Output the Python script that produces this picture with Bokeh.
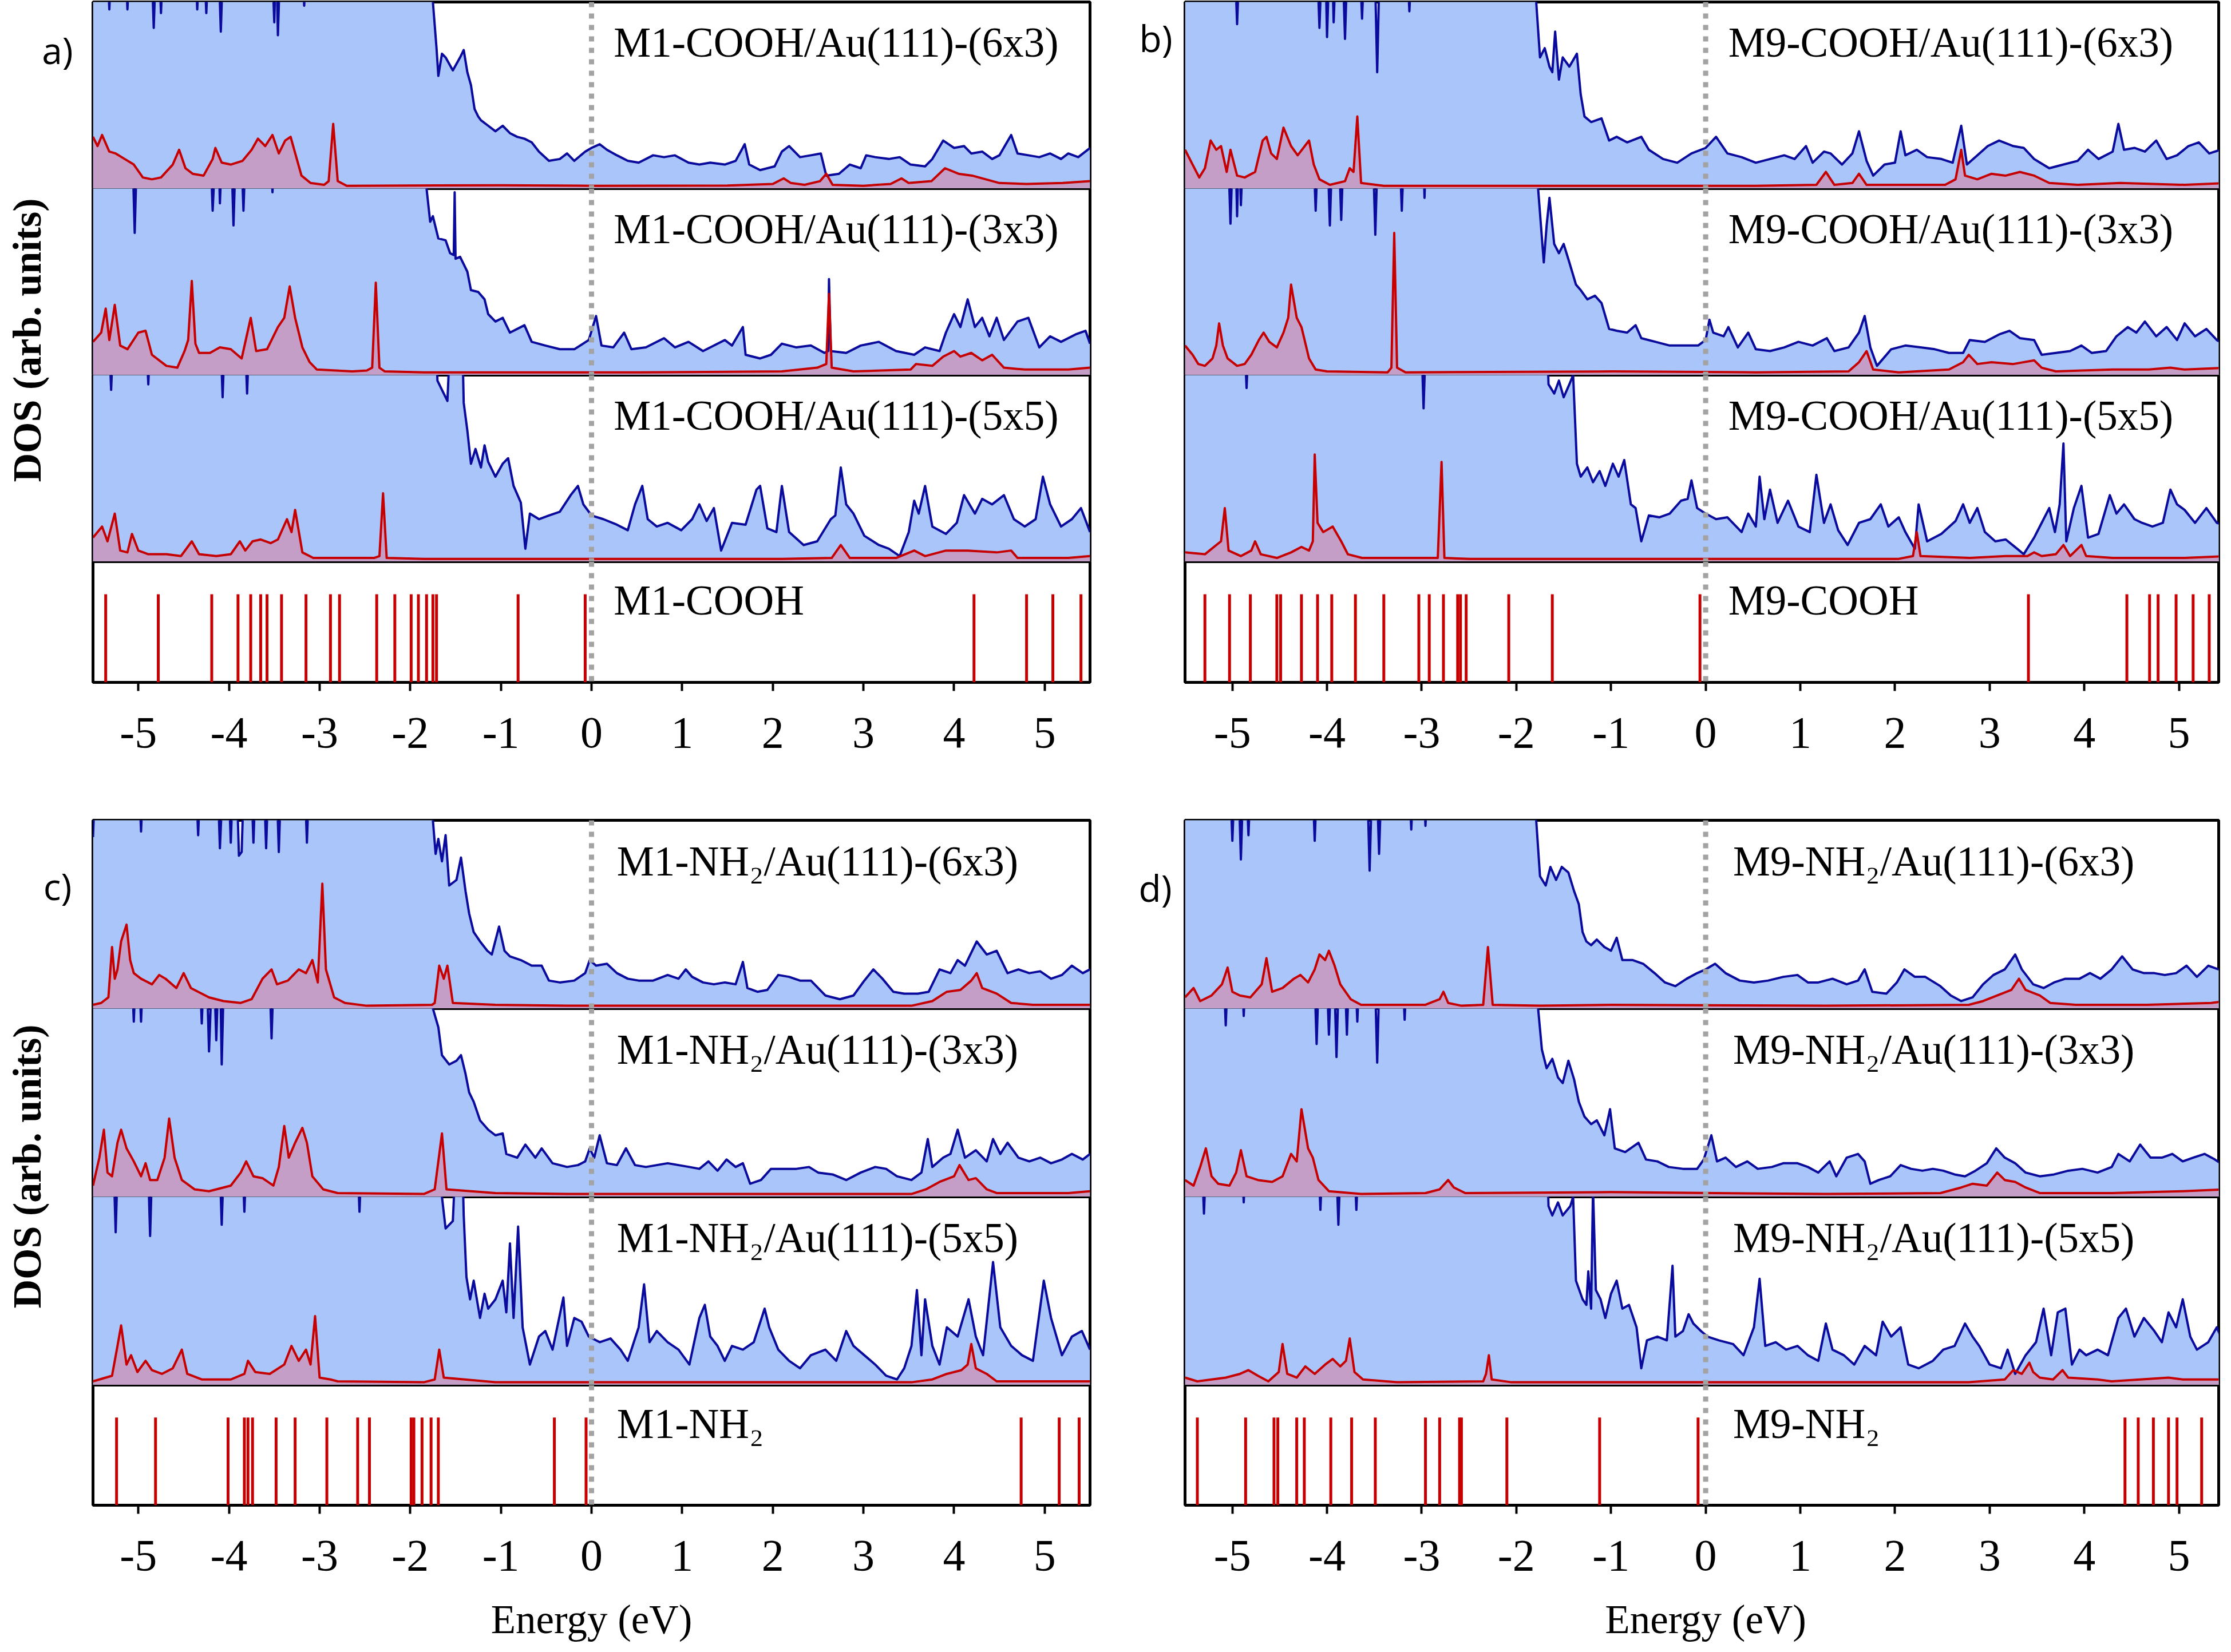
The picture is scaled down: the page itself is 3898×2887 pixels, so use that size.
import math
from bokeh.plotting import figure
from bokeh.layouts import row, column
from bokeh.models import Span, Label, Range1d, FixedTicker
from bokeh.embed import file_html
from bokeh.resources import INLINE

# ---------------- data ----------------
XTICKS = [-5, -4, -3, -2, -1, 0, 1, 2, 3, 4, 5]
XTICK_LABELS = ["-5", "-4", "-3", "-2", "-1", "0", "1", "2", "3", "4", "5"]

TITLES_A = ["M1-COOH/Au(111)-(6x3)", "M1-COOH/Au(111)-(3x3)", "M1-COOH/Au(111)-(5x5)"]
TITLES_B = ["M9-COOH/Au(111)-(6x3)", "M9-COOH/Au(111)-(3x3)", "M9-COOH/Au(111)-(5x5)"]
TITLES_C = ["M1-NH\u2082/Au(111)-(6x3)", "M1-NH\u2082/Au(111)-(3x3)", "M1-NH\u2082/Au(111)-(5x5)"]
TITLES_D = ["M9-NH\u2082/Au(111)-(6x3)", "M9-NH\u2082/Au(111)-(3x3)", "M9-NH\u2082/Au(111)-(5x5)"]
MOLECULES = ["M1-COOH", "M9-COOH", "M1-NH\u2082", "M9-NH\u2082"]
PANEL_LETTERS = ["a)", "b)", "c)", "d)"]
X_TITLE = "Energy (eV)"
Y_TITLE = "DOS (arb. units)"

# molecular levels (eV)
LEVELS_A = [-5.36, -4.78, -4.19, -3.90, -3.76, -3.65, -3.58, -3.42, -3.15, -2.88, -2.78, -2.37,
            -2.17, -1.99, -1.91, -1.82, -1.75, -1.71, -0.81, -0.07, 4.22, 4.80, 5.09, 5.40]
LEVELS_B = [-5.29, -5.03, -4.81, -4.53, -4.49, -4.27, -4.10, -3.95, -3.70, -3.40, -3.03, -2.92,
            -2.77, -2.62, -2.59, -2.53, -2.08, -1.62, -0.06, 3.41, 4.45, 4.69, 4.78, 4.97, 5.15, 5.32]
LEVELS_C = [-5.24, -4.81, -4.01, -3.83, -3.79, -3.74, -3.48, -3.27, -2.92, -2.58, -2.45, -1.99,
            -1.96, -1.87, -1.77, -1.69, -0.41, -0.06, 4.74, 5.16, 5.38]
LEVELS_D = [-5.37, -4.86, -4.56, -4.52, -4.32, -4.24, -3.96, -3.74, -3.49, -2.96, -2.81, -2.60,
            -2.58, -2.10, -1.12, -0.08, 4.43, 4.57, 4.73, 4.89, 4.98, 5.24]

# total DOS (blue) and molecule-projected DOS (red), arbitrary units (100 = top of sub-panel)
A1_BLUE = [(-5.50,130),(-5.35,130),(-5.32,96),(-5.29,130),(-5.15,130),(-5.12,96),(-5.09,130),(-4.86,130),(-4.83,86),(-4.80,130),(-4.78,130),(-4.75,94),(-4.72,130),(-4.38,130),(-4.35,96),(-4.32,130),(-4.28,130),(-4.25,94),(-4.22,130),(-4.12,130),(-4.09,84),(-4.06,130),(-3.53,130),(-3.50,89),(-3.48,130),(-3.46,82),(-3.43,130),(-3.20,130),(-3.17,98),(-3.14,130),(-1.78,130),
           (-1.75,100),(-1.71,75),(-1.69,60),(-1.65,72),(-1.61,70),(-1.53,63),(-1.45,70),(-1.41,74),(-1.37,62),(-1.33,55),(-1.29,42),(-1.25,38),(-1.22,36),(-1.14,33),(-1.06,30),(-0.98,33),(-0.90,29),(-0.82,27),(-0.74,26),(-0.66,24),(-0.58,19),(-0.47,14),(-0.35,15),(-0.27,18),(-0.19,14),(-0.07,19),(0.00,21),(0.09,23),(0.17,20),(0.28,17),(0.40,14),(0.52,13),(0.68,17),(0.80,16),(0.92,17),(1.07,13),(1.19,12),(1.31,13),(1.47,12),(1.59,14),(1.69,23),(1.74,12),(1.86,9),(2.02,11),(2.10,19),(2.18,22),(2.30,16),(2.42,17),(2.53,18),(2.59,6),(2.73,7),(2.85,12),(2.97,10),(3.03,17),(3.13,16),(3.28,15),(3.40,16),(3.52,12),(3.68,11),(3.76,15),(3.88,25),(4.00,21),(4.11,22),(4.19,18),(4.31,19),(4.42,15),(4.50,17),(4.63,28),(4.70,18),(4.82,17),(4.94,16),(5.06,18),(5.18,15),(5.26,18),(5.37,16),(5.50,21)]
A1_RED = [(-5.50,27),(-5.45,22),(-5.40,28),(-5.32,19),(-5.25,18),(-5.15,15),(-5.05,12),(-4.95,5),(-4.85,4),(-4.75,5),(-4.62,12),(-4.55,20),(-4.48,10),(-4.40,7),(-4.28,6),(-4.18,15),(-4.15,21),(-4.08,13),(-3.98,12),(-3.85,14),(-3.75,20),(-3.68,26),(-3.60,22),(-3.52,28),(-3.45,18),(-3.38,25),(-3.32,27),(-3.28,20),(-3.20,6),(-3.10,2),(-2.95,1),(-2.90,3),(-2.85,34),(-2.80,3),(-2.70,0.5),(-1.00,0.8),(0.00,0.5),(1.50,0.6),(2.00,1.5),(2.12,4.5),(2.20,2),(2.35,1),(2.52,3),(2.59,7),(2.66,1),(3.00,0.5),(3.30,1.5),(3.42,4.5),(3.50,2),(3.75,3),(3.90,10),(4.05,7),(4.20,6),(4.35,4),(4.50,2),(4.80,1.5),(5.20,2),(5.50,3)]

A2_BLUE = [(-5.50,130),(-5.07,130),(-5.04,76),(-5.01,130),(-4.21,130),(-4.18,88),(-4.14,130),(-4.12,130),(-4.10,92),(-4.07,130),(-3.98,130),(-3.95,80),(-3.92,130),(-3.87,130),(-3.84,88),(-3.81,130),(-3.55,130),(-3.52,98),(-3.49,130),(-1.84,130),
           (-1.82,100),(-1.78,82),(-1.75,85),(-1.69,73),(-1.61,72),(-1.56,65),(-1.52,64),(-1.51,98),(-1.50,62),(-1.45,63),(-1.37,55),(-1.33,45),(-1.25,44),(-1.18,40),(-1.14,32),(-1.06,28),(-0.98,30),(-0.90,22),(-0.74,26),(-0.66,17),(-0.51,15),(-0.35,13),(-0.19,13),(-0.03,18),(0.05,31),(0.11,15),(0.24,14),(0.36,22),(0.44,13),(0.60,14),(0.80,19),(0.92,14),(1.07,17),(1.23,12),(1.47,18),(1.55,15),(1.67,25),(1.70,10),(1.86,8),(1.98,10),(2.10,16),(2.26,14),(2.42,15),(2.57,11),(2.61,12),(2.62,51),(2.64,12),(2.81,11),(2.97,15),(3.17,17),(3.36,12),(3.56,10),(3.68,14),(3.84,12),(3.91,22),(4.00,32),(4.07,25),(4.15,40),(4.23,25),(4.31,30),(4.39,20),(4.47,30),(4.55,18),(4.70,28),(4.82,30),(4.94,14),(5.06,20),(5.18,17),(5.34,21),(5.45,23),(5.50,16)]
A2_RED = [(-5.50,17),(-5.41,22),(-5.36,35),(-5.32,18),(-5.26,37),(-5.20,15),(-5.12,13),(-5.00,22),(-4.92,23),(-4.85,10),(-4.69,4),(-4.57,3),(-4.49,12),(-4.45,18),(-4.41,50),(-4.37,16),(-4.33,11),(-4.21,11),(-4.10,14),(-3.98,13),(-3.86,8),(-3.76,30),(-3.70,12),(-3.58,13),(-3.46,25),(-3.39,30),(-3.33,47),(-3.27,30),(-3.19,14),(-3.11,6),(-3.03,2),(-2.64,1),(-2.48,1.5),(-2.42,3),(-2.38,49),(-2.34,3),(-2.28,1),(-1.85,0.5),(0.52,0.5),(2.10,1),(2.49,3),(2.59,5),(2.62,43),(2.65,3),(2.89,1),(3.52,2),(3.58,5),(3.76,4),(3.88,9),(4.00,12),(4.07,9),(4.19,11),(4.31,7),(4.42,10),(4.55,3),(4.78,2),(5.26,2),(5.50,3)]

A3_BLUE = [(-5.50,130),(-5.33,130),(-5.30,92),(-5.27,130),(-4.92,130),(-4.89,95),(-4.86,130),(-4.10,130),(-4.07,88),(-4.04,130),(-3.83,130),(-3.80,90),(-3.77,130),(-1.72,130),
           (-1.70,97),(-1.65,92),(-1.59,86),(-1.55,130),(-1.43,130),(-1.41,85),(-1.37,70),(-1.33,52),(-1.28,60),(-1.22,50),(-1.18,62),(-1.14,53),(-1.06,45),(-0.98,52),(-0.92,55),(-0.86,40),(-0.78,31),(-0.73,6),(-0.68,25),(-0.58,22),(-0.47,24),(-0.35,26),(-0.23,35),(-0.15,40),(-0.09,30),(0.00,24),(0.13,22),(0.28,19),(0.40,16),(0.48,30),(0.56,40),(0.62,22),(0.72,18),(0.84,20),(0.99,16),(1.11,22),(1.19,30),(1.27,21),(1.35,28),(1.43,5),(1.55,20),(1.70,19),(1.82,38),(1.86,40),(1.94,17),(2.04,15),(2.10,40),(2.18,15),(2.34,8),(2.49,10),(2.64,22),(2.69,24),(2.75,50),(2.81,30),(2.89,25),(3.01,13),(3.17,8),(3.28,6),(3.40,2),(3.50,15),(3.56,32),(3.61,25),(3.68,40),(3.76,18),(3.91,14),(4.03,20),(4.11,35),(4.23,25),(4.31,33),(4.42,30),(4.55,35),(4.66,22),(4.78,18),(4.90,22),(4.98,45),(5.06,30),(5.18,18),(5.30,22),(5.40,28),(5.50,15)]
A3_RED = [(-5.50,12),(-5.40,18),(-5.34,10),(-5.26,25),(-5.20,5),(-5.12,4),(-5.07,14),(-5.00,5),(-4.89,3),(-4.69,3),(-4.53,2),(-4.41,10),(-4.33,3),(-4.14,2),(-3.98,3),(-3.88,10),(-3.82,5),(-3.74,10),(-3.65,11),(-3.54,9),(-3.46,11),(-3.36,22),(-3.31,15),(-3.27,27),(-3.19,4),(-3.07,1),(-2.40,1),(-2.34,2),(-2.30,36),(-2.26,1),(-1.85,0.5),(2.10,0.5),(2.65,1),(2.75,8),(2.85,1),(3.36,1),(3.56,5),(3.68,2),(3.91,5),(4.15,5),(4.47,4),(4.63,5),(4.70,1),(5.26,1),(5.50,2)]

B1_BLUE = [(-5.50,130),(-4.98,130),(-4.95,88),(-4.92,130),(-4.11,130),(-4.08,86),(-4.05,130),(-4.02,130),(-4.00,81),(-3.97,130),(-3.95,130),(-3.93,89),(-3.90,130),(-3.84,130),(-3.81,80),(-3.78,130),(-3.66,130),(-3.63,91),(-3.60,130),(-3.50,130),(-3.47,62),(-3.44,130),(-3.16,130),(-3.13,95),(-3.10,130),(-1.81,130),
           (-1.79,100),(-1.75,70),(-1.70,75),(-1.65,65),(-1.62,62),(-1.59,84),(-1.55,58),(-1.51,70),(-1.44,65),(-1.36,72),(-1.32,50),(-1.28,38),(-1.21,35),(-1.10,37),(-1.02,25),(-0.94,27),(-0.83,24),(-0.68,27),(-0.60,20),(-0.45,15),(-0.30,13),(-0.15,18),(0.00,21),(0.11,27),(0.23,18),(0.38,16),(0.53,13),(0.68,15),(0.83,17),(0.94,15),(1.06,22),(1.13,13),(1.25,19),(1.32,18),(1.44,12),(1.55,18),(1.62,30),(1.70,14),(1.77,6),(1.89,12),(2.00,13),(2.06,30),(2.11,17),(2.23,20),(2.34,16),(2.49,15),(2.61,13),(2.70,33),(2.76,12),(2.87,17),(2.98,22),(3.10,25),(3.25,22),(3.36,21),(3.47,15),(3.63,10),(3.78,12),(3.93,14),(4.04,20),(4.15,15),(4.30,19),(4.36,34),(4.42,20),(4.53,21),(4.64,19),(4.76,25),(4.87,15),(4.98,17),(5.10,22),(5.21,24),(5.32,18),(5.44,20),(5.50,18)]
B1_RED = [(-5.50,20),(-5.42,12),(-5.35,5),(-5.29,10),(-5.23,25),(-5.17,20),(-5.12,22),(-5.06,8),(-5.02,20),(-4.95,6),(-4.87,5),(-4.76,8),(-4.68,25),(-4.64,27),(-4.59,18),(-4.53,15),(-4.46,32),(-4.38,22),(-4.31,17),(-4.19,25),(-4.14,12),(-4.08,4),(-3.97,1),(-3.81,3),(-3.76,10),(-3.72,8),(-3.68,38),(-3.64,2),(-3.40,0.5),(0.53,0.5),(1.17,1),(1.27,8),(1.36,1),(1.55,2),(1.62,7),(1.70,1),(2.53,1),(2.64,4),(2.70,20),(2.74,6),(2.87,4),(3.02,7),(3.17,6),(3.32,8),(3.47,6),(3.63,2),(3.93,1),(4.38,2),(5.06,1),(5.50,2)]

B2_BLUE = [(-5.50,130),(-5.05,130),(-5.02,81),(-4.99,130),(-4.97,130),(-4.95,85),(-4.93,130),(-4.91,91),(-4.88,130),(-4.15,130),(-4.12,88),(-4.09,130),(-4.00,130),(-3.97,80),(-3.94,130),(-3.88,130),(-3.85,83),(-3.82,130),(-3.52,130),(-3.49,75),(-3.46,130),(-3.24,130),(-3.21,88),(-3.18,130),(-2.99,130),(-2.97,95),(-2.95,130),(-1.79,130),
           (-1.77,100),(-1.71,60),(-1.68,80),(-1.65,95),(-1.60,70),(-1.55,65),(-1.50,70),(-1.44,60),(-1.37,48),(-1.32,45),(-1.25,40),(-1.17,42),(-1.10,38),(-1.02,24),(-0.94,23),(-0.83,22),(-0.74,26),(-0.68,19),(-0.53,17),(-0.38,15),(-0.23,15),(-0.08,15),(0.00,18),(0.04,29),(0.08,22),(0.19,20),(0.24,25),(0.34,14),(0.45,22),(0.53,13),(0.68,12),(0.83,14),(0.98,17),(1.13,15),(1.28,19),(1.36,12),(1.51,14),(1.62,22),(1.68,31),(1.74,14),(1.81,4),(1.96,13),(2.11,15),(2.27,14),(2.42,13),(2.57,11),(2.72,11),(2.79,18),(2.95,17),(3.10,21),(3.21,23),(3.32,19),(3.47,18),(3.55,10),(3.70,11),(3.85,12),(3.97,15),(4.08,11),(4.23,12),(4.34,20),(4.46,25),(4.55,22),(4.64,28),(4.76,20),(4.87,25),(4.98,18),(5.06,27),(5.17,20),(5.29,24),(5.40,18),(5.50,15)]
B2_RED = [(-5.50,15),(-5.42,10),(-5.36,5),(-5.29,4),(-5.21,8),(-5.17,15),(-5.14,27),(-5.10,15),(-5.05,8),(-4.95,4),(-4.87,5),(-4.80,10),(-4.72,18),(-4.67,22),(-4.61,17),(-4.53,14),(-4.46,22),(-4.41,30),(-4.38,48),(-4.32,30),(-4.27,25),(-4.19,8),(-4.12,2),(-4.00,1),(-3.36,0.5),(-3.32,3),(-3.29,76),(-3.26,3),(-3.17,0.5),(-0.98,1),(0.53,0.5),(1.51,1),(1.62,6),(1.70,12),(1.77,2),(2.04,0.5),(2.57,2),(2.72,6),(2.78,10),(2.87,5),(3.02,6),(3.25,5),(3.47,7),(3.55,3),(3.70,1),(4.30,2),(4.68,2),(4.91,3),(5.06,2),(5.50,3)]

B3_BLUE = [(-5.50,130),(-4.88,130),(-4.85,93),(-4.82,130),(-3.01,130),(-2.98,82),(-2.95,130),(-1.68,130),
           (-1.66,95),(-1.60,90),(-1.55,97),(-1.50,88),(-1.44,95),(-1.40,100),(-1.36,52),(-1.32,45),(-1.25,50),(-1.19,42),(-1.12,48),(-1.06,40),(-0.98,52),(-0.92,45),(-0.86,54),(-0.79,30),(-0.74,28),(-0.68,10),(-0.60,24),(-0.49,23),(-0.38,25),(-0.26,32),(-0.19,33),(-0.15,43),(-0.09,28),(0.00,25),(0.11,22),(0.23,23),(0.38,15),(0.45,25),(0.53,18),(0.57,45),(0.62,22),(0.68,38),(0.76,20),(0.87,32),(0.98,18),(1.10,15),(1.17,46),(1.25,20),(1.32,30),(1.40,16),(1.50,8),(1.62,20),(1.74,22),(1.85,30),(1.93,18),(2.04,23),(2.11,15),(2.21,6),(2.25,30),(2.34,10),(2.49,14),(2.64,21),(2.72,30),(2.79,20),(2.87,28),(2.95,15),(3.06,10),(3.17,11),(3.29,6),(3.36,3),(3.47,12),(3.55,20),(3.63,28),(3.69,15),(3.74,30),(3.78,63),(3.81,10),(3.89,28),(3.97,40),(4.04,12),(4.15,14),(4.27,35),(4.34,25),(4.42,30),(4.53,22),(4.61,20),(4.72,18),(4.83,20),(4.91,38),(4.98,30),(5.06,27),(5.17,20),(5.29,28),(5.40,20),(5.50,18)]
B3_RED = [(-5.50,4),(-5.29,3),(-5.17,8),(-5.12,10),(-5.08,28),(-5.04,5),(-4.91,2),(-4.80,5),(-4.76,10),(-4.70,3),(-4.53,1),(-4.38,4),(-4.27,7),(-4.19,5),(-4.15,10),(-4.13,57),(-4.10,20),(-4.04,15),(-3.94,18),(-3.85,10),(-3.78,3),(-3.63,1),(-2.83,1),(-2.79,53),(-2.76,1),(-2.49,0.5),(2.04,0.5),(2.19,2),(2.23,15),(2.27,2),(2.79,1),(3.17,2),(3.40,2),(3.47,4),(3.55,2),(3.70,3),(3.78,8),(3.85,2),(3.97,8),(4.02,2),(4.30,1),(5.06,1),(5.50,2)]

C1_BLUE = [(-5.50,91),(-5.47,130),(-5.00,130),(-4.97,94),(-4.94,130),(-4.37,130),(-4.34,92),(-4.31,130),(-4.13,130),(-4.10,85),(-4.06,130),(-4.01,130),(-3.98,88),(-3.95,130),(-3.92,130),(-3.89,81),(-3.86,83),(-3.83,130),(-3.76,130),(-3.73,88),(-3.70,130),(-3.62,130),(-3.59,85),(-3.56,130),(-3.48,130),(-3.45,83),(-3.42,130),(-3.17,130),(-3.14,88),(-3.11,130),(-1.77,130),
           (-1.75,100),(-1.72,82),(-1.69,90),(-1.65,78),(-1.61,92),(-1.57,65),(-1.49,68),(-1.44,80),(-1.39,62),(-1.35,50),(-1.30,40),(-1.23,35),(-1.15,30),(-1.10,28),(-1.02,43),(-0.96,30),(-0.90,27),(-0.78,25),(-0.66,22),(-0.55,22),(-0.47,14),(-0.35,13),(-0.19,14),(-0.07,18),(-0.02,25),(0.05,22),(0.17,23),(0.28,18),(0.40,15),(0.52,14),(0.68,14),(0.84,17),(0.96,15),(1.04,20),(1.11,16),(1.23,13),(1.35,12),(1.47,13),(1.59,12),(1.67,24),(1.72,10),(1.83,8),(1.94,9),(2.06,17),(2.18,16),(2.30,14),(2.42,14),(2.58,6),(2.74,4),(2.89,6),(3.01,14),(3.11,20),(3.21,15),(3.33,8),(3.45,7),(3.60,7),(3.72,8),(3.84,20),(3.96,18),(4.04,25),(4.12,22),(4.25,35),(4.36,28),(4.47,30),(4.59,18),(4.71,20),(4.83,18),(4.95,19),(5.07,15),(5.19,17),(5.30,22),(5.42,18),(5.50,20)]
C1_RED = [(-5.50,1),(-5.41,2),(-5.33,5),(-5.29,32),(-5.26,15),(-5.23,20),(-5.19,35),(-5.13,44),(-5.09,25),(-5.05,18),(-4.97,15),(-4.85,12),(-4.77,17),(-4.70,15),(-4.58,10),(-4.50,18),(-4.42,10),(-4.34,8),(-4.22,5),(-4.06,3),(-3.87,2),(-3.75,4),(-3.63,15),(-3.53,20),(-3.47,12),(-3.35,14),(-3.23,20),(-3.15,18),(-3.08,25),(-3.02,13),(-2.97,66),(-2.93,20),(-2.84,5),(-2.72,2),(-2.48,0.5),(-1.76,1),(-1.73,2),(-1.68,22),(-1.63,15),(-1.59,22),(-1.53,2),(-1.06,1),(-0.27,0.5),(3.53,0.5),(3.76,3),(3.92,8),(4.07,9),(4.19,14),(4.25,18),(4.31,10),(4.47,7),(4.63,2),(4.87,1),(5.50,1)]

C2_BLUE = [(-5.50,130),(-5.08,130),(-5.05,93),(-5.02,130),(-5.00,130),(-4.97,93),(-4.94,130),(-4.33,130),(-4.30,92),(-4.27,130),(-4.25,130),(-4.22,77),(-4.18,130),(-4.17,130),(-4.14,83),(-4.11,130),(-4.10,130),(-4.08,70),(-4.05,130),(-3.56,130),(-3.53,84),(-3.50,130),(-1.77,130),
           (-1.75,100),(-1.69,90),(-1.65,75),(-1.57,70),(-1.49,72),(-1.44,75),(-1.39,65),(-1.35,55),(-1.30,50),(-1.23,40),(-1.14,35),(-1.06,32),(-0.98,33),(-0.94,22),(-0.82,20),(-0.73,27),(-0.62,20),(-0.55,25),(-0.43,17),(-0.27,15),(-0.15,16),(-0.07,18),(-0.02,25),(0.03,20),(0.09,32),(0.17,17),(0.28,16),(0.38,25),(0.48,16),(0.60,15),(0.72,16),(0.84,17),(0.96,16),(1.08,15),(1.19,14),(1.29,18),(1.39,13),(1.49,19),(1.59,15),(1.67,17),(1.75,6),(1.87,8),(1.98,14),(2.10,14),(2.26,14),(2.40,15),(2.50,12),(2.66,11),(2.81,8),(2.97,12),(3.13,15),(3.25,14),(3.37,10),(3.53,8),(3.64,12),(3.71,30),(3.76,15),(3.88,20),(3.96,22),(4.04,35),(4.12,20),(4.24,24),(4.36,18),(4.43,30),(4.51,22),(4.59,28),(4.71,20),(4.83,18),(4.95,20),(5.07,17),(5.19,19),(5.30,22),(5.42,19),(5.50,22)]
C2_RED = [(-5.50,5),(-5.43,20),(-5.38,35),(-5.34,12),(-5.29,10),(-5.23,28),(-5.19,35),(-5.13,25),(-5.05,18),(-4.97,10),(-4.92,17),(-4.87,8),(-4.79,8),(-4.71,20),(-4.66,41),(-4.60,20),(-4.52,8),(-4.38,3),(-4.22,2),(-3.98,5),(-3.87,12),(-3.81,18),(-3.73,10),(-3.63,9),(-3.51,5),(-3.45,15),(-3.39,37),(-3.34,20),(-3.27,28),(-3.19,36),(-3.14,28),(-3.08,10),(-2.96,3),(-2.80,1),(-1.85,0.5),(-1.73,3),(-1.65,33),(-1.60,3),(-1.06,1),(-0.27,0.5),(3.53,0.5),(3.69,3),(3.84,7),(4.00,10),(4.06,16),(4.16,8),(4.24,9),(4.36,3),(4.47,1),(5.26,1),(5.50,2)]

C3_BLUE = [(-5.50,130),(-5.28,130),(-5.25,81),(-5.22,130),(-4.90,130),(-4.87,79),(-4.84,130),(-4.11,130),(-4.08,85),(-4.05,130),(-3.86,130),(-3.83,92),(-3.80,130),(-2.59,130),(-2.56,92),(-2.53,130),(-1.67,130),
           (-1.65,100),(-1.61,83),(-1.53,87),(-1.49,130),(-1.43,130),(-1.41,90),(-1.38,57),(-1.34,45),(-1.30,55),(-1.23,35),(-1.18,48),(-1.14,40),(-1.06,45),(-0.98,55),(-0.94,38),(-0.90,75),(-0.86,35),(-0.81,84),(-0.76,30),(-0.68,10),(-0.58,25),(-0.51,28),(-0.43,18),(-0.31,46),(-0.27,20),(-0.19,35),(-0.11,33),(-0.03,25),(0.09,22),(0.21,24),(0.32,18),(0.40,12),(0.52,30),(0.58,53),(0.64,22),(0.72,28),(0.84,22),(0.96,18),(1.08,10),(1.19,35),(1.25,42),(1.31,25),(1.39,20),(1.47,12),(1.55,20),(1.67,18),(1.79,22),(1.91,40),(1.96,30),(2.06,18),(2.18,12),(2.30,8),(2.42,15),(2.58,18),(2.70,12),(2.81,28),(2.89,20),(3.01,15),(3.13,10),(3.25,4),(3.37,2),(3.45,8),(3.53,20),(3.59,50),(3.64,15),(3.68,45),(3.76,20),(3.84,10),(3.92,30),(4.04,25),(4.16,45),(4.24,25),(4.32,15),(4.43,65),(4.51,30),(4.63,20),(4.75,15),(4.87,12),(4.99,55),(5.07,35),(5.19,15),(5.30,25),(5.41,28),(5.50,18)]
C3_RED = [(-5.50,1),(-5.29,4),(-5.23,20),(-5.19,31),(-5.13,10),(-5.08,15),(-5.01,6),(-4.92,12),(-4.85,7),(-4.74,5),(-4.62,8),(-4.52,18),(-4.46,5),(-4.30,2),(-3.98,2),(-3.83,5),(-3.79,12),(-3.71,6),(-3.55,5),(-3.39,10),(-3.31,20),(-3.23,12),(-3.15,18),(-3.10,10),(-3.05,36),(-3.00,3),(-2.88,2),(-2.80,1),(-1.85,0.5),(-1.73,2),(-1.68,18),(-1.63,3),(-1.06,0.5),(3.53,0.5),(3.76,2),(3.92,5),(4.08,7),(4.15,10),(4.19,21),(4.24,8),(4.36,5),(4.47,1),(5.50,1)]

D1_BLUE = [(-5.50,130),(-5.03,130),(-5.00,89),(-4.97,130),(-4.94,130),(-4.91,79),(-4.88,130),(-4.86,130),(-4.83,92),(-4.80,130),(-4.16,130),(-4.13,89),(-4.10,130),(-3.58,130),(-3.55,73),(-3.52,130),(-3.48,130),(-3.45,82),(-3.42,130),(-3.14,130),(-3.11,95),(-3.08,130),(-2.99,130),(-2.96,97),(-2.93,130),(-1.81,130),
           (-1.79,100),(-1.75,70),(-1.69,65),(-1.64,75),(-1.58,68),(-1.52,75),(-1.45,72),(-1.39,62),(-1.34,55),(-1.30,40),(-1.26,35),(-1.21,33),(-1.15,36),(-1.07,32),(-1.00,30),(-0.94,37),(-0.88,25),(-0.77,25),(-0.66,23),(-0.54,18),(-0.43,13),(-0.32,11),(-0.20,15),(-0.09,18),(0.00,20),(0.10,23),(0.21,18),(0.36,14),(0.51,13),(0.66,14),(0.82,16),(0.97,17),(1.08,13),(1.19,13),(1.34,15),(1.49,12),(1.61,14),(1.68,20),(1.76,8),(1.91,7),(2.02,13),(2.10,20),(2.21,16),(2.32,16),(2.48,11),(2.59,6),(2.70,3),(2.82,5),(2.93,12),(3.04,17),(3.16,20),(3.27,28),(3.34,20),(3.46,12),(3.57,10),(3.68,13),(3.80,15),(3.95,15),(4.06,18),(4.17,15),(4.29,20),(4.40,27),(4.51,20),(4.63,18),(4.74,18),(4.85,17),(4.97,18),(5.08,22),(5.19,16),(5.31,22),(5.42,20),(5.50,20)]
D1_RED = [(-5.50,5),(-5.41,10),(-5.34,3),(-5.22,6),(-5.11,12),(-5.05,21),(-5.00,8),(-4.92,6),(-4.81,5),(-4.69,12),(-4.64,26),(-4.58,8),(-4.47,10),(-4.35,15),(-4.28,17),(-4.20,13),(-4.13,20),(-4.08,28),(-4.02,25),(-3.98,30),(-3.92,22),(-3.86,12),(-3.75,4),(-3.64,1),(-2.96,1),(-2.81,4),(-2.77,8),(-2.72,2),(-2.58,0.5),(-2.35,1),(-2.30,32),(-2.25,1),(-1.75,0.5),(-1.00,1),(1.27,0.5),(2.78,1),(2.93,3),(3.08,6),(3.23,9),(3.31,15),(3.38,9),(3.53,6),(3.64,2),(3.91,1),(4.66,1),(5.34,2),(5.50,3)]

D2_BLUE = [(-5.50,130),(-5.10,130),(-5.07,91),(-5.04,130),(-4.91,130),(-4.88,96),(-4.85,130),(-4.14,130),(-4.11,81),(-4.08,130),(-4.01,130),(-3.98,86),(-3.95,130),(-3.93,130),(-3.90,74),(-3.87,130),(-3.82,130),(-3.79,86),(-3.76,130),(-3.71,130),(-3.68,93),(-3.65,130),(-3.50,130),(-3.47,71),(-3.44,130),(-3.21,130),(-3.18,94),(-3.15,130),(-1.79,130),
           (-1.77,100),(-1.73,78),(-1.68,68),(-1.62,73),(-1.56,63),(-1.51,60),(-1.45,72),(-1.39,62),(-1.34,50),(-1.28,42),(-1.21,38),(-1.15,40),(-1.07,32),(-1.01,46),(-0.96,25),(-0.85,23),(-0.71,28),(-0.63,19),(-0.51,18),(-0.39,15),(-0.24,14),(-0.09,14),(-0.02,19),(0.06,32),(0.12,18),(0.21,20),(0.32,15),(0.44,18),(0.55,14),(0.70,15),(0.82,17),(0.97,17),(1.08,15),(1.19,12),(1.31,18),(1.38,10),(1.49,20),(1.61,22),(1.68,18),(1.74,6),(1.83,8),(1.95,10),(2.06,16),(2.17,14),(2.29,13),(2.40,14),(2.51,13),(2.63,11),(2.74,10),(2.85,13),(2.97,17),(3.07,25),(3.16,20),(3.27,17),(3.38,12),(3.53,10),(3.68,11),(3.83,13),(3.98,14),(4.14,12),(4.29,15),(4.36,22),(4.48,18),(4.59,27),(4.70,20),(4.82,20),(4.93,22),(5.04,18),(5.15,20),(5.27,22),(5.38,19),(5.50,15)]
D2_RED = [(-5.50,8),(-5.41,5),(-5.34,15),(-5.28,25),(-5.22,10),(-5.15,6),(-5.03,5),(-4.96,12),(-4.91,24),(-4.85,10),(-4.73,8),(-4.58,7),(-4.47,10),(-4.38,22),(-4.32,18),(-4.27,46),(-4.20,25),(-4.15,20),(-4.09,8),(-3.98,2),(-3.64,0.5),(-2.96,1),(-2.81,3),(-2.72,8),(-2.66,4),(-2.54,1),(-1.00,1.5),(1.27,0.5),(2.48,1),(2.70,4),(2.82,6),(2.97,5),(3.08,12),(3.16,8),(3.27,7),(3.38,4),(3.53,1),(4.29,1),(5.04,2),(5.50,3)]

D3_BLUE = [(-5.50,130),(-5.33,130),(-5.30,91),(-5.27,130),(-4.91,130),(-4.88,97),(-4.85,130),(-4.10,130),(-4.07,93),(-4.04,130),(-3.91,130),(-3.88,85),(-3.85,130),(-3.72,130),(-3.69,93),(-3.66,130),(-1.68,130),
           (-1.66,95),(-1.62,90),(-1.56,97),(-1.51,90),(-1.43,95),(-1.40,100),(-1.37,55),(-1.30,45),(-1.26,42),(-1.24,60),(-1.21,40),(-1.19,105),(-1.16,50),(-1.11,45),(-1.06,35),(-1.00,48),(-0.94,55),(-0.88,40),(-0.81,42),(-0.73,30),(-0.68,8),(-0.62,23),(-0.51,25),(-0.41,23),(-0.35,63),(-0.32,25),(-0.24,28),(-0.18,37),(-0.13,32),(-0.05,28),(0.02,25),(0.14,23),(0.29,21),(0.40,15),(0.51,30),(0.57,56),(0.63,20),(0.74,22),(0.85,18),(0.97,20),(1.08,15),(1.19,12),(1.27,32),(1.34,18),(1.46,15),(1.57,10),(1.68,20),(1.80,15),(1.87,33),(1.96,25),(2.06,30),(2.14,10),(2.25,8),(2.40,12),(2.51,18),(2.63,20),(2.74,32),(2.82,25),(2.89,20),(3.00,10),(3.12,8),(3.19,18),(3.27,5),(3.38,15),(3.49,22),(3.57,40),(3.65,15),(3.72,38),(3.80,40),(3.87,10),(3.95,18),(4.02,15),(4.14,18),(4.25,15),(4.36,35),(4.44,40),(4.53,25),(4.63,35),(4.74,28),(4.82,22),(4.89,38),(4.97,30),(5.04,45),(5.12,25),(5.19,18),(5.31,22),(5.40,30),(5.50,18)]
D3_RED = [(-5.50,3),(-5.37,1),(-5.22,2),(-5.07,3),(-4.92,5),(-4.83,7),(-4.73,4),(-4.62,1),(-4.51,6),(-4.47,21),(-4.42,5),(-4.32,3),(-4.23,9),(-4.13,5),(-4.02,10),(-3.94,13),(-3.86,9),(-3.80,12),(-3.76,24),(-3.71,6),(-3.62,2),(-3.26,0.5),(-2.35,1),(-2.32,5),(-2.29,15),(-2.26,2),(-2.05,0.5),(2.78,0.5),(3.16,2),(3.25,7),(3.34,5),(3.42,11),(3.46,6),(3.53,3),(3.67,2),(3.77,7),(3.83,3),(4.14,2),(4.29,1),(4.89,3),(5.04,2),(5.50,2)]

# ---------------- style ----------------
BLUE_FILL = "#aac5fa"
BLUE_LINE = "#0a0a9c"
RED_LINE = "#c60000"
RED_FILL = "#c59ec7"
ZERO_COLOR = "#a3a3a3"
SERIF = "Liberation Serif"
SANS = "Open Sans"
FRAME_W = 5
Y_BASE = -1.0


def no_grid(p):
    for g in p.grid:
        g.visible = False
        g.grid_line_color = None


def add_zero(p):
    p.add_layout(Span(location=0, dimension="height", line_color=ZERO_COLOR, line_width=9,
                      line_dash="9 11", line_cap="butt"))


def base_fig(width, height, xr, yr, top, bottom):
    p = figure(width=width, height=height, x_range=xr, y_range=yr,
               min_border_left=3, min_border_right=3, min_border_top=top, min_border_bottom=bottom,
               y_axis_location=None, x_axis_location=("below" if bottom > 0 else None),
               toolbar_location=None, output_backend="svg", title=None)
    p.outline_line_color = "black"
    p.outline_line_width = FRAME_W
    p.background_fill_color = "white"
    p.border_fill_color = "white"
    no_grid(p)
    return p


def dos_fig(width, frame_h, top, xr, blue, red, title, title_x):
    p = base_fig(width, frame_h + top, xr, Range1d(Y_BASE, 100), top, 0)
    bx, by = [list(t) for t in zip(*blue)]
    rx, ry = [list(t) for t in zip(*red)]
    p.varea(x=bx, y1=Y_BASE, y2=by, fill_color=BLUE_FILL)
    p.varea(x=rx, y1=Y_BASE, y2=ry, fill_color=RED_FILL)
    p.line(bx, by, line_color=BLUE_LINE, line_width=4, line_join="round")
    p.line(rx, ry, line_color=RED_LINE, line_width=4, line_join="round")
    add_zero(p)
    p.add_layout(Label(x=title_x, y=78, text=title, text_font=SERIF, text_font_size="73px",
                       text_color="black", text_baseline="alphabetic", text_align="left"))
    return p


def level_fig(width, frame_h, bottom, xr, levels, title, title_x):
    p = base_fig(width, frame_h + bottom, xr, Range1d(0, 1.37), 0, bottom)
    p.segment(x0=levels, y0=0, x1=levels, y1=[1.0] * len(levels), line_color=RED_LINE, line_width=5)
    add_zero(p)
    p.add_layout(Label(x=title_x, y=0.926, text=title, text_font=SERIF, text_font_size="73px",
                       text_color="black", text_baseline="alphabetic", text_align="left"))
    ax = p.xaxis[0]
    ax.ticker = FixedTicker(ticks=XTICKS)
    ax.major_label_overrides = {t: l for t, l in zip(XTICKS, XTICK_LABELS)}
    ax.axis_line_color = None
    ax.major_tick_in = 0
    ax.major_tick_out = 15
    ax.major_tick_line_width = 4
    ax.major_tick_line_color = "black"
    ax.minor_tick_line_color = None
    ax.major_label_text_font = SERIF
    ax.major_label_text_font_size = "78px"
    ax.major_label_text_color = "black"
    ax.major_label_standoff = 47
    return p


def xtitle_fig(width, height, xr, text):
    p = figure(width=width, height=height, x_range=xr, y_range=Range1d(0, height),
               min_border_left=3, min_border_right=3, min_border_top=0, min_border_bottom=0,
               x_axis_location=None, y_axis_location=None,
               toolbar_location=None, output_backend="svg", title=None)
    p.outline_line_color = None
    no_grid(p)
    p.add_layout(Label(x=0, y=height / 2, text=text, text_font=SERIF, text_font_size="71px",
                       text_color="black", text_align="center", text_baseline="middle"))
    return p


def panel(width, dos_h, lvl_h, bottom, x_end, curves, titles, levels, mol, title_x, xlabel_h):
    xr = Range1d(-5.5, x_end)
    figs = []
    for i, ((blue, red), t) in enumerate(zip(curves, titles)):
        figs.append(dos_fig(width, dos_h, 3 if i == 0 else 0, xr, blue, red, t, title_x))
    figs.append(level_fig(width, lvl_h, bottom, xr, levels, mol, title_x))
    if xlabel_h:
        figs.append(xtitle_fig(width, xlabel_h, xr, X_TITLE))
    return column(*figs, spacing=0)


def side_fig(width, height, labels):
    p = figure(width=width, height=height, x_range=Range1d(0, width), y_range=Range1d(0, height),
               min_border=0, x_axis_location=None, y_axis_location=None,
               toolbar_location=None, output_backend="svg", title=None)
    p.outline_line_color = None
    no_grid(p)
    for lb in labels:
        p.add_layout(lb)
    return p


def letter(x, y, t):
    return Label(x=x, y=y, text=t, text_font=SANS, text_font_size="64px", text_color="black",
                 text_align="center", text_baseline="middle")


def dos_label(x, y):
    return Label(x=x, y=y, text=Y_TITLE, angle=math.pi / 2, text_font=SERIF,
                 text_font_size="70px", text_font_style="bold", text_color="black",
                 text_align="center", text_baseline="middle")


W_LEFT = 1748
W_RIGHT = 1812
H1 = 3 + 326 * 3 + 211 + 238
H2 = 3 + 329 * 3 + 210 + 158 + 82

col_a = panel(W_LEFT, 326, 211, 238, 5.5, [(A1_BLUE, A1_RED), (A2_BLUE, A2_RED), (A3_BLUE, A3_RED)],
              TITLES_A, LEVELS_A, MOLECULES[0], 0.245, 0)
col_b = panel(W_RIGHT, 326, 211, 238, 5.42, [(B1_BLUE, B1_RED), (B2_BLUE, B2_RED), (B3_BLUE, B3_RED)],
              TITLES_B, LEVELS_B, MOLECULES[1], 0.24, 0)
col_c = panel(W_LEFT, 329, 210, 158, 5.5, [(C1_BLUE, C1_RED), (C2_BLUE, C2_RED), (C3_BLUE, C3_RED)],
              TITLES_C, LEVELS_C, MOLECULES[2], 0.28, 82)
col_d = panel(W_RIGHT, 329, 210, 158, 5.42, [(D1_BLUE, D1_RED), (D2_BLUE, D2_RED), (D3_BLUE, D3_RED)],
              TITLES_D, LEVELS_D, MOLECULES[3], 0.29, 82)

left_a = side_fig(159, H1, [letter(100, H1 - 87, PANEL_LETTERS[0]), dos_label(47, H1 - 594)])
left_b = side_fig(160, H1, [letter(112, H1 - 66, PANEL_LETTERS[1])])
left_c = side_fig(159, H2, [letter(100, H2 - 118, PANEL_LETTERS[2]), dos_label(47, H2 - 608)])
left_d = side_fig(160, H2, [letter(111, H2 - 121, PANEL_LETTERS[3])])

layout = column(row(left_a, col_a, left_b, col_b, spacing=0),
                row(left_c, col_c, left_d, col_d, spacing=0), spacing=0)

with open("out.html", "w") as f:
    f.write(file_html(layout, INLINE))
